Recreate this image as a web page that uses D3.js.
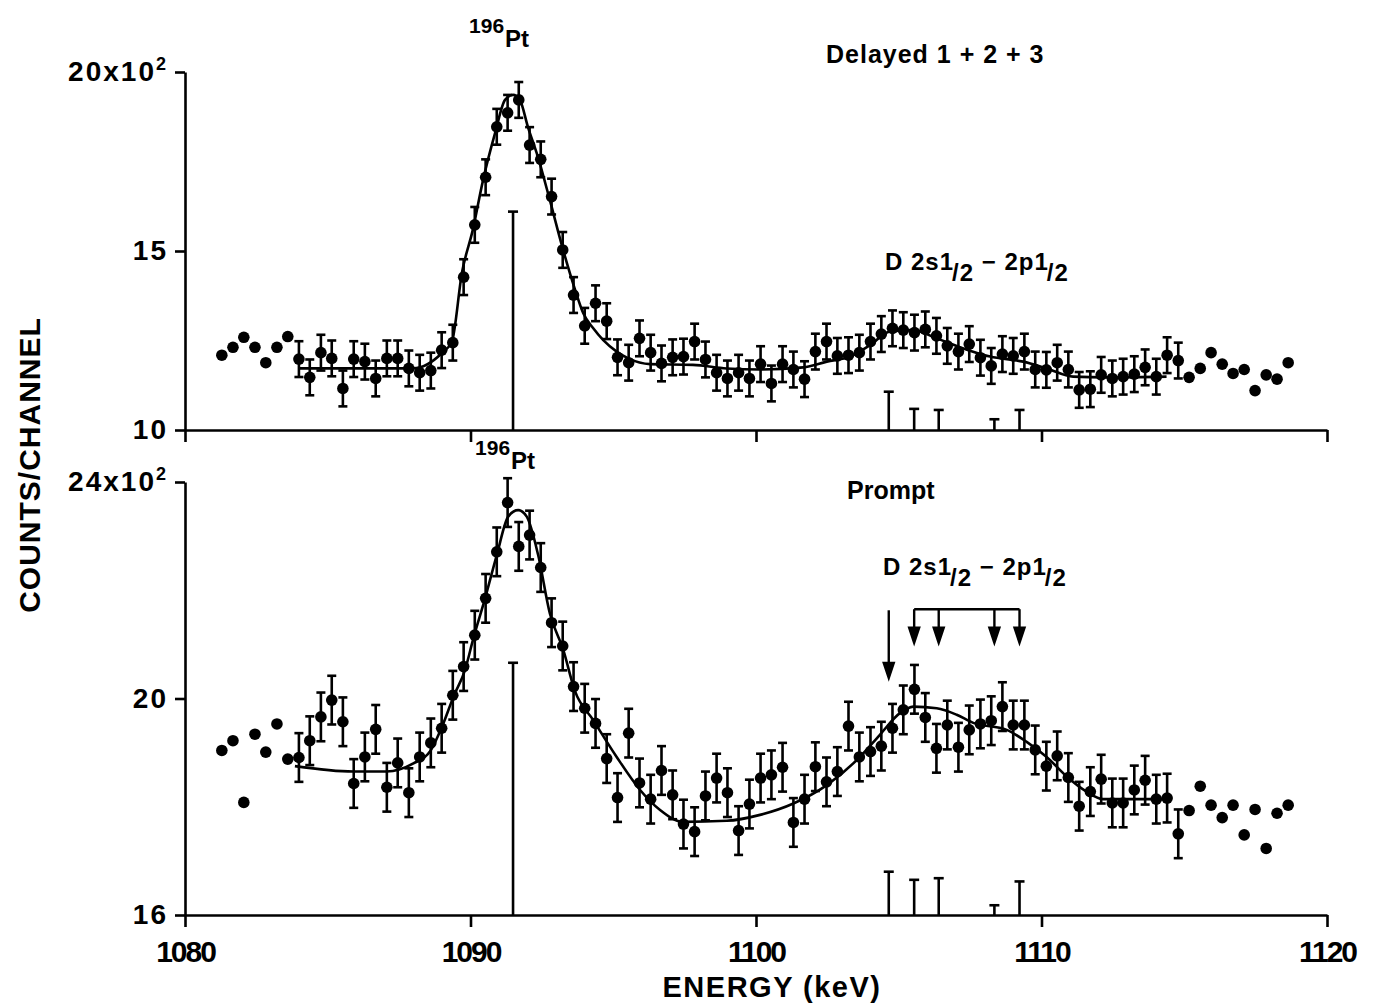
<!DOCTYPE html>
<html>
<head>
<meta charset="utf-8">
<script src="https://cdn.jsdelivr.net/npm/d3@7"></script>
<style>
  body { margin: 0; background: #fff; }
  svg { display: block; font-family: "Liberation Sans", Arial, sans-serif; font-weight: bold; }
</style>
</head>
<body>
<div class="chart"></div>
<script>
// channel energies (keV), shared by both spectra
const channelEnergies = [1081.29, 1081.68, 1082.06, 1082.45, 1082.83, 1083.22, 1083.60, 1083.99, 1084.37, 1084.76,
  1085.14, 1085.53, 1085.91, 1086.30, 1086.68, 1087.07, 1087.45, 1087.84, 1088.22, 1088.61,
  1088.99, 1089.38, 1089.76, 1090.15, 1090.53, 1090.92, 1091.30, 1091.69, 1092.07, 1092.46,
  1092.84, 1093.23, 1093.61, 1094.00, 1094.38, 1094.77, 1095.15, 1095.54, 1095.92, 1096.31,
  1096.69, 1097.08, 1097.46, 1097.85, 1098.23, 1098.62, 1099.00, 1099.39, 1099.77, 1100.16,
  1100.54, 1100.93, 1101.31, 1101.70, 1102.08, 1102.47, 1102.85, 1103.24, 1103.62, 1104.01,
  1104.39, 1104.78, 1105.16, 1105.55, 1105.93, 1106.32, 1106.70, 1107.09, 1107.47, 1107.86,
  1108.24, 1108.63, 1109.01, 1109.40, 1109.78, 1110.17, 1110.55, 1110.94, 1111.32, 1111.71,
  1112.09, 1112.48, 1112.86, 1113.25, 1113.63, 1114.02, 1114.40, 1114.79, 1115.17, 1115.56,
  1115.94, 1116.33, 1116.71, 1117.10, 1117.48, 1117.87, 1118.25, 1118.64];

// counts/channel in units of 10^2
const delayedCounts = [12.09, 12.31, 12.59, 12.31, 11.88, 12.31, 12.61,
  11.98, 11.47, 12.16, 12.00, 11.16, 11.98, 11.91, 11.44, 12.00, 12.00, 11.72, 11.60, 11.66, 12.23,
  12.44, 14.27, 15.73, 17.06, 18.47, 18.86, 19.22, 17.96, 17.56, 16.52, 15.03, 13.77,
  12.91, 13.54, 13.04, 12.03, 11.88, 12.56, 12.16, 11.86, 12.03, 12.05, 12.47, 11.97, 11.60, 11.44,
  11.60, 11.44, 11.84, 11.30, 11.84, 11.69, 11.42, 12.19, 12.47, 12.07, 12.09, 12.16, 12.47, 12.68,
  12.84, 12.79, 12.72, 12.81, 12.63, 12.35,
  12.19, 12.40, 12.02, 11.79, 12.12, 12.07, 12.19, 11.69, 11.68, 11.88, 11.69, 11.12, 11.14, 11.54,
  11.44, 11.49, 11.56, 11.75, 11.49, 12.09, 11.94,
  11.47, 11.72, 12.16, 11.84, 11.58, 11.69, 11.10, 11.54, 11.42, 11.88];

const promptCounts = [19.04, 19.22, 18.08, 19.34, 19.01, 19.53, 18.88,
  18.91, 19.22, 19.66, 19.97, 19.57, 18.43, 18.92, 19.43, 18.36, 18.81, 18.26, 18.92, 19.18, 19.45,
  20.06, 20.59, 21.17, 21.85, 22.71, 23.62, 22.81, 23.02, 22.42, 21.40, 20.97, 20.22,
  19.82, 19.54, 18.89, 18.17, 19.36, 18.44, 18.14, 18.67, 18.22, 17.68, 17.54, 18.20, 18.53, 18.26,
  17.56, 18.05, 18.53, 18.59, 18.73, 17.71, 18.14, 18.74, 18.46, 18.65, 19.49, 18.92, 19.02, 19.12,
  19.45, 19.79, 20.17, 19.65, 19.08, 19.51,
  19.10, 19.42, 19.53, 19.59, 19.85, 19.51, 19.51, 19.05, 18.75, 18.94, 18.54, 18.01, 18.28, 18.51,
  18.07, 18.07, 18.31, 18.49, 18.14, 18.16, 17.50,
  17.93, 18.38, 18.03, 17.80, 18.03, 17.48, 17.95, 17.23, 17.88, 18.03];

// channels that carry error bars (first, last index)
const errorRange = [7, 87];
const delayedErr = 0.5;
const promptErr = 0.45;

// fitted curves
const delayedFitE = [1083.96, 1087.99, 1089.00, 1089.35, 1089.70, 1090.08, 1090.44, 1090.86, 1091.21, 1091.49,
  1091.73, 1092.01, 1092.36, 1092.78, 1093.23, 1093.65, 1093.95, 1094.30, 1094.65, 1095.12, 1095.53,
  1096.29, 1097.79, 1098.97, 1100.14, 1101.66, 1102.48, 1103.29, 1103.99, 1104.69, 1105.51, 1106.33,
  1107.44, 1108.20, 1109.36, 1110.18, 1111.11, 1112.28, 1114.38];
const delayedFitY = [11.72, 11.72, 12.15, 12.47, 14.39, 15.59, 16.98, 18.29, 19.22, 19.36,
  19.22, 18.47, 17.63, 16.42, 15.07, 13.95, 13.26, 12.84, 12.51, 12.19, 12.00,
  11.84, 11.82, 11.72, 11.69, 11.75, 11.91, 12.05, 12.37, 12.75, 12.79, 12.56,
  12.23, 12.05, 11.91, 11.72, 11.49, 11.47, 11.49];

const promptFitE = [1083.85, 1085.89, 1087.06, 1088.00, 1088.58, 1089.05, 1089.40, 1089.81, 1090.10, 1090.51,
  1090.92, 1091.32, 1091.67, 1091.97, 1092.37, 1092.78, 1093.25, 1093.65, 1094.30, 1095.12, 1095.94,
  1096.64, 1097.45, 1098.97, 1100.14, 1101.31, 1102.48, 1103.64, 1104.34, 1105.04, 1105.51, 1106.33,
  1107.03, 1107.61, 1108.78, 1109.48, 1110.18, 1110.88, 1111.58, 1112.16, 1112.98, 1114.50];
const promptFitY = [18.75, 18.65, 18.65, 18.80, 19.02, 19.54, 20.03, 20.53, 21.11, 21.85,
  22.65, 23.36, 23.48, 23.36, 22.65, 21.57, 20.90, 20.15, 19.60, 18.92, 18.31,
  17.94, 17.72, 17.74, 17.85, 18.06, 18.40, 18.92, 19.33, 19.73, 19.85, 19.82,
  19.70, 19.55, 19.42, 19.20, 18.92, 18.56, 18.28, 18.14, 18.14, 18.14];

// reference lines
const ptEnergy = 1091.49;
const delayedPtTop = 16.10;
const promptPtTop = 20.66;
const lineEnergies = [1104.65, 1105.54, 1106.40, 1108.35, 1109.23];
const delayedLineTops = [11.07, 10.59, 10.56, 10.30, 10.56];
const promptLineTops = [16.80, 16.65, 16.68, 16.18, 16.62];

// arrows in the prompt panel
const longArrow = [21.63, 20.38];   // from, tip
const bracketLevel = 21.65;
const bracketTip = 21.03;

const xTicks = [1080, 1090, 1100, 1110, 1120];
const delayedTicks = [10, 15, 20];
const promptTicks = [16, 20, 24];

var width = 1381;
var height = 1006;

var svg = d3.select('.chart')
  .append('svg')
    .attr('width', width)
    .attr('height', height);

svg.append('rect')
  .attr('width', width)
  .attr('height', height)
  .attr('fill', '#fff');

const x = d3.scaleLinear().domain([1080, 1120]).range([185, 1327]);
const yTop = d3.scaleLinear().domain([10, 20]).range([430, 72]);
const yBot = d3.scaleLinear().domain([16, 24]).range([915, 482]);

function drawPanel(y, counts, err, fitE, fitY, lineTops, ptTop, yTicks, labels) {
  const base = y.range()[0];

  // y axis
  const gy = svg.append('g')
    .attr('transform', 'translate(185,0)')
    .call(d3.axisLeft(y).tickValues(yTicks).tickSize(10).tickSizeOuter(0).tickPadding(7));
  gy.select('.domain').attr('stroke-width', 2.6);
  gy.selectAll('.tick line').attr('stroke-width', 2.6);
  gy.selectAll('.tick text')
    .attr('font-size', 28)
    .attr('font-family', '"Liberation Sans", Arial, sans-serif')
    .attr('font-weight', 'bold')
    .attr('letter-spacing', 2)
    .attr('fill', '#000');
  const topTick = gy.selectAll('.tick text').filter(d => d === yTicks[yTicks.length - 1]);
  topTick.text(d => d + 'x10');
  topTick.append('tspan').attr('dy', -11).attr('font-size', 18).text('2');

  // x axis
  const gx = svg.append('g')
    .attr('transform', `translate(0,${base})`)
    .call(d3.axisBottom(x).tickValues(xTicks).tickSize(12).tickSizeOuter(0).tickPadding(14)
      .tickFormat(labels ? d3.format('d') : ''));
  gx.select('.domain').attr('stroke-width', 2.6);
  gx.selectAll('.tick line').attr('stroke-width', 2.6);
  gx.selectAll('.tick text')
    .attr('font-size', 30)
    .attr('font-family', '"Liberation Sans", Arial, sans-serif')
    .attr('font-weight', 'bold')
    .attr('letter-spacing', -2)
    .attr('fill', '#000');

  // reference sticks
  const sticks = [{ e: ptEnergy, top: ptTop }].concat(lineEnergies.map((e, i) => ({ e: e, top: lineTops[i] })));
  const gs = svg.append('g').attr('stroke', '#000').attr('stroke-width', 2.6);
  gs.selectAll('.stick').data(sticks).join('line')
    .attr('x1', d => x(d.e)).attr('x2', d => x(d.e))
    .attr('y1', base).attr('y2', d => y(d.top));
  gs.selectAll('.cap').data(sticks).join('line')
    .attr('x1', d => x(d.e) - 5).attr('x2', d => x(d.e) + 5)
    .attr('y1', d => y(d.top)).attr('y2', d => y(d.top));

  // fitted curve
  const line = d3.line()
    .x((d, i) => x(fitE[i]))
    .y(d => y(d))
    .curve(d3.curveMonotoneX);
  svg.append('path')
    .attr('d', line(fitY))
    .attr('fill', 'none')
    .attr('stroke', '#000')
    .attr('stroke-width', 2.6);

  const pts = counts.map((c, i) => ({ e: channelEnergies[i], c: c, bar: i >= errorRange[0] && i <= errorRange[1] }));

  // error bars
  const ge = svg.append('g').attr('stroke', '#000').attr('stroke-width', 2.6);
  const withBars = pts.filter(d => d.bar);
  ge.selectAll('.eb').data(withBars).join('line')
    .attr('x1', d => x(d.e)).attr('x2', d => x(d.e))
    .attr('y1', d => y(d.c - err)).attr('y2', d => y(d.c + err));
  ge.selectAll('.ct').data(withBars).join('line')
    .attr('x1', d => x(d.e) - 4.5).attr('x2', d => x(d.e) + 4.5)
    .attr('y1', d => y(d.c + err)).attr('y2', d => y(d.c + err));
  ge.selectAll('.cb').data(withBars).join('line')
    .attr('x1', d => x(d.e) - 4.5).attr('x2', d => x(d.e) + 4.5)
    .attr('y1', d => y(d.c - err)).attr('y2', d => y(d.c - err));

  // points
  svg.append('g').selectAll('circle').data(pts).join('circle')
    .attr('cx', d => x(d.e))
    .attr('cy', d => y(d.c))
    .attr('r', 5.8)
    .attr('fill', '#000');
}

drawPanel(yTop, delayedCounts, delayedErr, delayedFitE, delayedFitY, delayedLineTops, delayedPtTop, delayedTicks, false);
drawPanel(yBot, promptCounts, promptErr, promptFitE, promptFitY, promptLineTops, promptPtTop, promptTicks, true);

// arrows (prompt panel)
function arrowHead(px, py) {
  return `M${px},${py}L${px - 5},${py - 15}L${px + 5},${py - 15}Z`;
}
const ga = svg.append('g').attr('stroke', '#000').attr('stroke-width', 2.4);
ga.append('line')
  .attr('x1', x(lineEnergies[0])).attr('x2', x(lineEnergies[0]))
  .attr('y1', yBot(longArrow[0])).attr('y2', yBot(longArrow[1]) - 10);
ga.append('path').attr('d', arrowHead(x(lineEnergies[0]), yBot(longArrow[1]))).attr('fill', '#000');
ga.append('line')
  .attr('x1', x(lineEnergies[1])).attr('x2', x(lineEnergies[4]))
  .attr('y1', yBot(bracketLevel)).attr('y2', yBot(bracketLevel));
lineEnergies.slice(1).forEach(e => {
  ga.append('line')
    .attr('x1', x(e)).attr('x2', x(e))
    .attr('y1', yBot(bracketLevel)).attr('y2', yBot(bracketTip) - 10);
  ga.append('path').attr('d', arrowHead(x(e), yBot(bracketTip))).attr('fill', '#000');
});

// text labels
function ptLabel(px, py) {
  const t = svg.append('text').attr('x', px).attr('y', py).attr('fill', '#000');
  t.append('tspan').attr('font-size', 21).text('196');
  t.append('tspan').attr('font-size', 24).attr('dy', 14).attr('dx', 1).text('Pt');
}
ptLabel(x(ptEnergy) - 44, 33);
ptLabel(x(ptEnergy) - 38, 455);

function stateLabel(px, py) {
  const t = svg.append('text').attr('x', px).attr('y', py)
    .attr('font-size', 24).attr('letter-spacing', 1).attr('fill', '#000');
  t.append('tspan').text('D 2s1');
  t.append('tspan').attr('dx', -2).attr('dy', 11).text('/2');
  t.append('tspan').attr('dy', -11).text(' \u2212 2p1');
  t.append('tspan').attr('dx', -2).attr('dy', 11).text('/2');
}
stateLabel(885, 270);
stateLabel(883, 575);

svg.append('text')
  .attr('x', 826).attr('y', 63)
  .attr('font-size', 25).attr('letter-spacing', 1)
  .text('Delayed 1 + 2 + 3');

svg.append('text')
  .attr('x', 847).attr('y', 499)
  .attr('font-size', 25)
  .text('Prompt');

svg.append('text')
  .attr('transform', 'translate(40,465) rotate(-90)')
  .attr('text-anchor', 'middle')
  .attr('font-size', 30)
  .attr('letter-spacing', 1)
  .text('COUNTS/CHANNEL');

svg.append('text')
  .attr('x', 772).attr('y', 997)
  .attr('text-anchor', 'middle')
  .attr('font-size', 29)
  .attr('letter-spacing', 1.5)
  .text('ENERGY (keV)');
</script>
</body>
</html>
